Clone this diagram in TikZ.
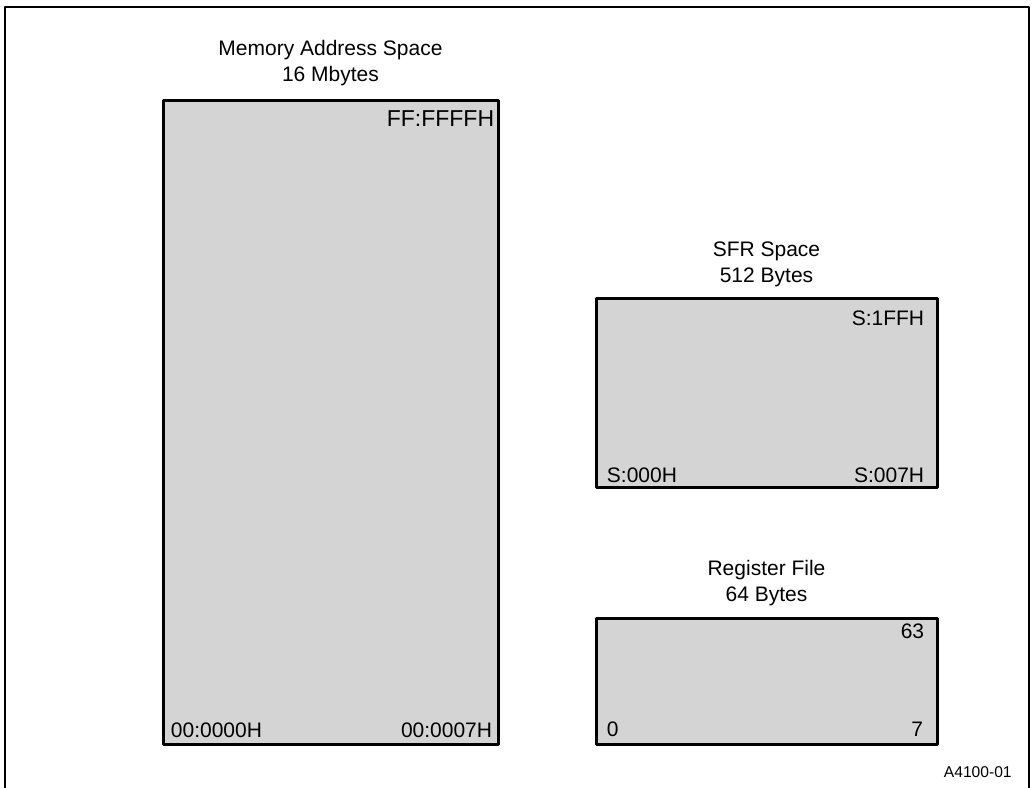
\documentclass[tikz,border=0pt]{standalone}
\usepackage{fontspec}
\setmainfont{Liberation Sans}
\usetikzlibrary{calc, positioning}

\tikzset{
  region/.style={draw=black, line width=1.5pt, fill=black!17, inner sep=0pt},
  caption/.style={align=center, inner sep=0pt, font=\fontsize{10.5}{13}\selectfont},
  addr/.style={inner sep=0pt, font=\fontsize{10.5}{12}\selectfont},
}

\begin{document}
\begin{tikzpicture}[x=0.5pt, y=-0.5pt, line join=round]
\useasboundingbox (0,0) rectangle (1033,787);

% Outer frame, open at the bottom of the page
\begin{scope}
\clip (0,0) rectangle (1033,787);
\coordinate (FL) at (5,800);
\coordinate (FTL) at (5,7);
\coordinate (FTR) at (1029,7);
\coordinate (FR) at (1029,800);
\draw[line width=1pt] (FL) -- (FTL) -- (FTR) -- (FR);
\end{scope}

% Memory address space
\node[region, minimum width=167.5pt, minimum height=322pt] (mem) at (330.5,422) {};
\node[caption, above=6.3pt of mem] (memtitle) {Memory Address Space\\16 Mbytes};
\node[addr, anchor=base east, font=\fontsize{11.5}{12}\selectfont] (memtop) at ($(mem.north east)+(-5,28)$) {FF:FFFFH};
\node[addr, anchor=base west] (memlo) at ($(mem.south west)+(9,-8)$) {00:0000H};
\node[addr, anchor=base east] (memhi) at ($(mem.south east)+(-7,-8)$) {00:0007H};

% SFR space
\node[region, minimum width=170.5pt, minimum height=94.5pt] (sfr) at (766.5,392.5) {};
\node[caption, above=4.8pt of sfr] (sfrtitle) {SFR Space\\512 Bytes};
\node[addr, anchor=base east] (sfrtop) at ($(sfr.north east)+(-14,29)$) {S:1FFH};
\node[addr, anchor=base west] (sfrlo) at ($(sfr.south west)+(12,-6)$) {S:000H};
\node[addr, anchor=base east] (sfrhi) at ($(sfr.south east)+(-14,-6)$) {S:007H};

% Register file
\node[region, minimum width=170.5pt, minimum height=63pt] (reg) at (766.5,681) {};
\node[caption, above=5.3pt of reg] (regtitle) {Register File\\64 Bytes};
\node[addr, anchor=base east] (regtop) at ($(reg.north east)+(-14,22)$) {63};
\node[addr, anchor=base west] (reglo) at ($(reg.south west)+(12,-9)$) {0};
\node[addr, anchor=base east] (reghi) at ($(reg.south east)+(-15,-9)$) {7};

% Figure number
\node[inner sep=0pt, anchor=base east, font=\fontsize{7.8}{9}\selectfont] (fignum) at (1012,777) {A4100-01};
\end{tikzpicture}
\end{document}
